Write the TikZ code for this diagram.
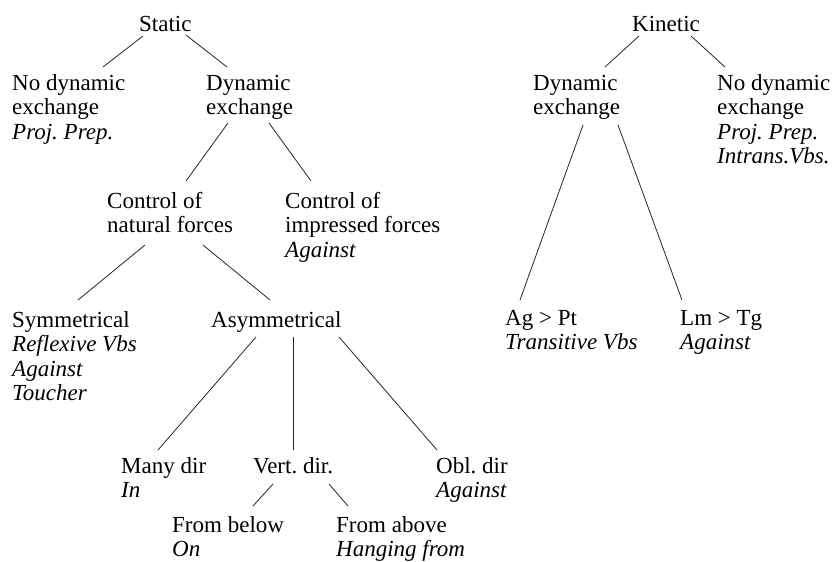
\documentclass[tikz,border=0pt]{standalone}
\usepackage{fontspec}
\setmainfont{Liberation Serif}
\frenchspacing
\newcommand\stk[1]{\begin{tabular}[t]{@{}l@{}}#1\end{tabular}}
\begin{document}
\begin{tikzpicture}[x=1pt,y=-1pt,
  lbl/.style={anchor=base west,inner sep=0pt,font=\fontsize{23}{24.5}\selectfont},
  conn/.style={line width=0.8pt,black!85}]
\useasboundingbox (0,0) rectangle (836,562);
% Static tree
\node[lbl] (static) at (139,31) {Static};
\node[lbl] (nodyn) at (12,90) {\stk{No dynamic\\exchange\\\textit{Proj. Prep.}}};
\node[lbl] (dyn) at (206,90) {\stk{Dynamic\\exchange}};
\node[lbl] (natural) at (107,208) {\stk{Control of\\natural forces}};
\node[lbl] (impressed) at (285,208) {\stk{Control of\\impressed forces\\\textit{Against}}};
\node[lbl] (sym) at (12,327) {\stk{Symmetrical\\\textit{Reflexive Vbs}\\\textit{Against}\\\textit{Toucher}}};
\node[lbl] (asym) at (211,327) {Asymmetrical};
\node[lbl] (many) at (121,473) {\stk{Many dir\\\textit{In}}};
\node[lbl] (vert) at (253,473) {Vert. dir.};
\node[lbl] (obl) at (436,473) {\stk{Obl. dir\\\textit{Against}}};
\node[lbl] (below) at (172,532) {\stk{From below\\\textit{On}}};
\node[lbl] (above) at (336,532) {\stk{From above\\\textit{Hanging from}}};
% Kinetic tree
\node[lbl] (kinetic) at (632,31) {Kinetic};
\node[lbl] (kdyn) at (533,90) {\stk{Dynamic\\exchange}};
\node[lbl] (knodyn) at (717,90) {\stk{No dynamic\\exchange\\\textit{Proj. Prep.}\\\textit{Intrans.Vbs.}}};
\node[lbl] (agpt) at (505,325) {\stk{Ag > Pt\\\textit{Transitive Vbs}}};
\node[lbl] (lmtg) at (680,325) {\stk{Lm > Tg\\\textit{Against}}};
% connectors (static)
\draw[conn] ([shift={(4,5)}]static.base west) -- ([shift={(91,-23)}]nodyn.base west);
\draw[conn] ([shift={(47,4)}]static.base west) -- ([shift={(21,-23)}]dyn.base west);
\draw[conn] ([shift={(22,33)}]dyn.base west) -- ([shift={(79,-27)}]natural.base west);
\draw[conn] ([shift={(63,33)}]dyn.base west) -- ([shift={(26,-27)}]impressed.base west);
\draw[conn] ([shift={(38,37)}]natural.base west) -- ([shift={(66,-27)}]sym.base west);
\draw[conn] ([shift={(96,37)}]natural.base west) -- ([shift={(59,-27)}]asym.base west);
\draw[conn] ([shift={(45,10)}]asym.base west) -- ([shift={(37,-23)}]many.base west);
\draw[conn] ([shift={(82,10)}]asym.base west) -- ([shift={(40,-23)}]vert.base west);
\draw[conn] ([shift={(128,10)}]asym.base west) -- ([shift={(1,-23)}]obl.base west);
\draw[conn] ([shift={(20,11)}]vert.base west) -- ([shift={(81,-26)}]below.base west);
\draw[conn] ([shift={(76,11)}]vert.base west) -- ([shift={(12,-26)}]above.base west);
% connectors (kinetic)
\draw[conn] ([shift={(7,5)}]kinetic.base west) -- ([shift={(72,-23)}]kdyn.base west);
\draw[conn] ([shift={(59,5)}]kinetic.base west) -- ([shift={(8,-23)}]knodyn.base west);
\draw[conn] ([shift={(50,35)}]kdyn.base west) -- ([shift={(15,-25)}]agpt.base west);
\draw[conn] ([shift={(85,35)}]kdyn.base west) -- ([shift={(2,-25)}]lmtg.base west);
\end{tikzpicture}
\end{document}
